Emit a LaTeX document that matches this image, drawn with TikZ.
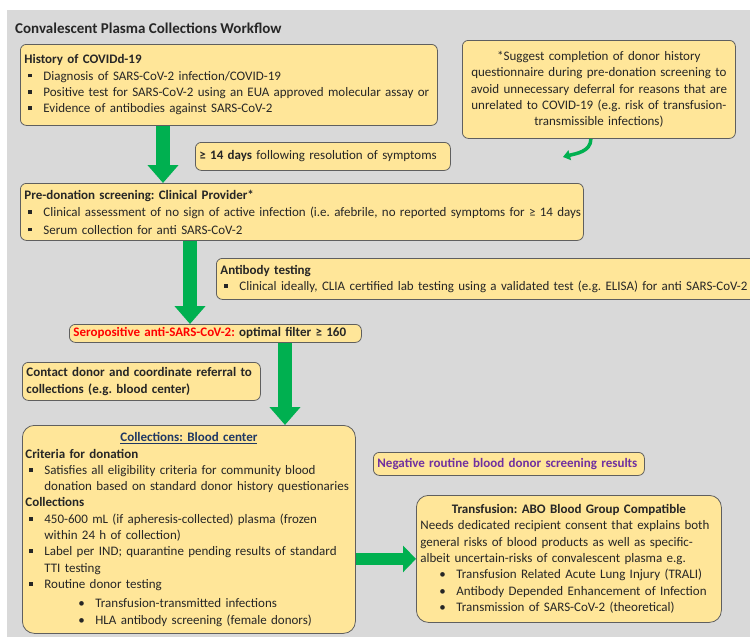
\documentclass[tikz,border=0pt]{standalone}
\usepackage{fontspec}
\setmainfont{Carlito}
\frenchspacing
\usetikzlibrary{arrows.meta, positioning}
\definecolor{bggray}{HTML}{D9D9D9}
\definecolor{boxfill}{HTML}{FFE699}
\definecolor{boxline}{HTML}{5F5F5F}
\definecolor{flowgreen}{HTML}{00B050}
\definecolor{darkblue}{HTML}{1F3864}
\definecolor{negpurple}{HTML}{7030A0}
\definecolor{textgray}{HTML}{262626}

\newcommand{\sqitem}{\makebox[19pt][l]{\hspace{4pt}\rule[2.7pt]{3.8pt}{3.8pt}}}
\newcommand{\contline}{\hspace*{19pt}}
\newcommand{\dotitem}[1]{\hspace*{#1}\makebox[17pt][l]{\textbullet}}

\begin{document}
\begin{tikzpicture}[x=1pt, y=-1pt, font=\fontsize{13}{16.3}\selectfont, text=textgray,
  panel/.style={draw=boxline, line width=0.8pt, fill=boxfill, rounded corners=6pt,
    anchor=north west, inner xsep=4pt, inner ysep=2pt},
  bigarrow/.style={flowgreen, line width=14pt, -{Triangle[width=30pt, length=18pt]}}]

% Background
\useasboundingbox (0,0) rectangle (750,640);
\fill[bggray] (7,10) rectangle (750,637);

\node[anchor=west, inner sep=0pt, font=\fontsize{15}{18}\selectfont\bfseries] (title) at (15,28)
  {Convalescent Plasma Collections Workflow};

% History
\node[panel, text width=409pt, minimum height=81pt, align=left] (hist) at (20,44) {%
  \textbf{History of COVIDd-19}\\
  \sqitem Diagnosis of SARS-CoV-2 infection/COVID-19\\
  \sqitem Positive test for SARS-CoV-2 using an EUA approved molecular assay or\\
  \sqitem Evidence of antibodies against SARS-CoV-2};

% Side note
\node[panel, text width=265pt, minimum height=98pt, align=center] (note) at (462,40) {%
  *Suggest completion of donor history\\
  questionnaire during pre-donation screening to\\
  avoid unnecessary deferral for reasons that are\\
  unrelated to COVID-19 (e.g. risk of transfusion-\\
  transmissible infections)};

\node[panel, text width=247pt, minimum height=28pt, align=left] (days) at (195,142)
  {\textbf{≥ 14 days} following resolution of symptoms};

% Pre-donation screening
\node[panel, text width=555pt, minimum height=57pt, align=left,
      font=\fontsize{13}{17.5}\selectfont] (pre) at (20,183) {%
  \textbf{Pre-donation screening: Clinical Provider*}\\
  \mbox{\sqitem Clinical assessment of no sign of active infection (i.e. afebrile, no reported symptoms for ≥ 14 days}\\
  \sqitem Serum collection for anti SARS-CoV-2};

\node[panel, text width=532pt, minimum height=41pt, align=left] (anti) at (216,258) {%
  \textbf{Antibody testing}\\
  \mbox{\sqitem Clinical ideally, CLIA certified lab testing using a validated test (e.g. ELISA) for anti SARS-CoV-2}};

\node[panel, text width=284pt, minimum height=18pt, inner ysep=1pt, align=left] (sero) at (69,324)
  {\textbf{\color{red}Seropositive anti-SARS-CoV-2:} \textbf{optimal filter ≥ 160}};

\node[panel, text width=230pt, minimum height=38pt, align=left] (contact) at (22,362) {%
  \textbf{Contact donor and coordinate referral to}\\
  \textbf{collections (e.g. blood center)}};

% Collections
\node[panel, rounded corners=12pt, text width=327pt, inner xsep=3pt, minimum height=208pt, align=left] (coll) at (22,425) {%
  \makebox[\hsize]{\color{darkblue}\textbf{\underline{Collections: Blood center}}}\\
  \textbf{Criteria for donation}\\
  \sqitem Satisfies all eligibility criteria for community blood\\
  \mbox{\contline donation based on standard donor history questionaries}\\
  \textbf{Collections}\\
  \sqitem 450-600 mL (if apheresis-collected) plasma (frozen\\
  \contline within 24 h of collection)\\
  \sqitem Label per IND; quarantine pending results of standard\\
  \contline TTI testing\\
  \sqitem Routine donor testing\\[3pt]
  \dotitem{53pt}Transfusion-transmitted infections\\
  \dotitem{53pt}HLA antibody screening (female donors)};

\node[panel, text width=263pt, minimum height=23pt, align=left] (neg) at (373,452)
  {\textbf{\color{negpurple}Negative routine blood donor screening results}};

% Transfusion
\node[panel, rounded corners=12pt, text width=297pt, minimum height=127pt, align=left] (trans) at (416,495) {%
  \makebox[\hsize]{\textbf{Transfusion: ABO Blood Group Compatible}}\\
  \mbox{Needs dedicated recipient consent that explains both}\\
  general risks of blood products as well as specific-\\
  albeit uncertain-risks of convalescent plasma e.g.\\
  \dotitem{19pt}Transfusion Related Acute Lung Injury (TRALI)\\
  \dotitem{19pt}Antibody Depended Enhancement of Infection\\
  \dotitem{19pt}Transmission of SARS-CoV-2 (theoretical)};

% Arrows
\coordinate (arrowa) at (163,0);
\coordinate (arrowb) at (190,0);
\coordinate (arrowc) at (285,0);
\coordinate (curvend) at (563,157);
\draw[bigarrow] (hist.south -| arrowa) -- (pre.north -| arrowa);
\draw[bigarrow] (pre.south -| arrowb) -- (sero.north -| arrowb);
\draw[bigarrow] (sero.south -| arrowc) -- (coll.north -| arrowc);
\draw[bigarrow, line width=12pt, -{Triangle[width=26pt, length=13pt]}] (coll.east |- trans.west) -- (trans.west);
\draw[flowgreen, line width=3.5pt, -{Triangle[width=10pt, length=7pt]}]
  ([xshift=-8pt]note.south) to[out=-90, in=15] (curvend);

\end{tikzpicture}
\end{document}
